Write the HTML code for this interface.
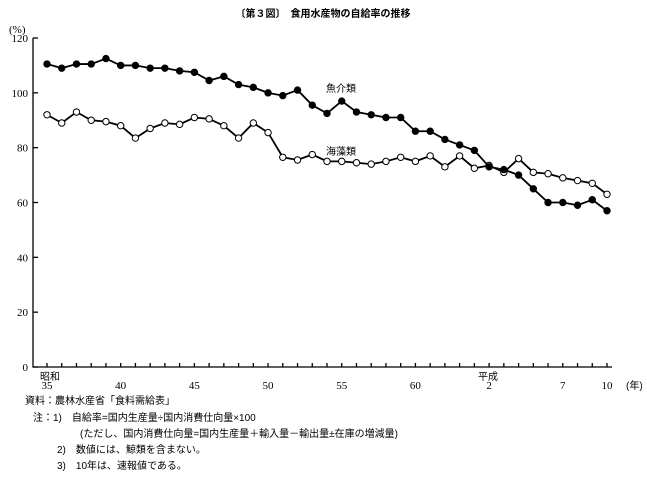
<!DOCTYPE html>
<html><head><meta charset="utf-8"><style>
body{margin:0;background:#fff;}
svg{display:block;font-family:"Liberation Serif","Noto Serif CJK SC","Noto Sans CJK JP",serif;}
.j{font-family:"Liberation Sans","Noto Sans CJK JP",sans-serif;font-size:10px;}
</style></head><body>
<svg id="s" width="647" height="480" viewBox="0 0 647 480" xmlns="http://www.w3.org/2000/svg">
<text class="j" x="323" y="17" text-anchor="middle" font-weight="bold">〔第３図〕　食用水産物の自給率の推移</text>
<text x="9" y="33" font-size="11">(%)</text>
<g id="ax" stroke="#000" stroke-width="1.3" fill="none"></g>
<g id="lb" font-size="11"></g>
<text class="j" x="326" y="92">魚介類</text>
<text class="j" x="326" y="155">海藻類</text>
<text class="j" x="40" y="380">昭和</text>
<text class="j" x="478" y="380">平成</text>
<text class="j" x="626" y="389" font-size="11">(年)</text>
<g class="j">
<text x="25" y="404">資料：農林水産省「食料需給表」</text>
<text x="33" y="421">注：1)　自給率=国内生産量÷国内消費仕向量×100</text>
<text x="80" y="437">(ただし、国内消費仕向量=国内生産量＋輸入量－輸出量±在庫の増減量)</text>
<text x="57" y="453">2)　数値には、鯨類を含まない。</text>
<text x="57" y="469">3)　10年は、速報値である。</text>
</g>
<g id="d"></g>
</svg>
<script>
const ns="http://www.w3.org/2000/svg";
function el(p,t,a,txt){const e=document.createElementNS(ns,t);for(const k in a)e.setAttribute(k,a[k]);if(txt!==undefined)e.textContent=txt;p.appendChild(e);return e;}
const X=i=>47+i*560/38, Y=v=>367-v*329/120;
const ax=document.getElementById('ax'),lb=document.getElementById('lb'),d=document.getElementById('d');
el(ax,'path',{d:`M33 ${Y(120)} V367 H612`});
for(let v=0;v<=120;v+=20){el(ax,'line',{x1:33,x2:38,y1:Y(v),y2:Y(v)});el(lb,'text',{x:28,y:Y(v)+4,'text-anchor':'end'},String(v));}
for(let i=0;i<39;i++)el(ax,'line',{x1:X(i),x2:X(i),y1:367,y2:363});
const xl=[[0,'35'],[5,'40'],[10,'45'],[15,'50'],[20,'55'],[25,'60'],[30,'2'],[35,'7'],[38,'10']];
xl.forEach(([i,t])=>el(lb,'text',{x:X(i),y:389,'text-anchor':'middle'},t));
const fish=[110.5,109,110.5,110.5,112.5,110,110,109,109,108,107.5,104.5,106,103,102,100,99,101,95.5,92.5,97,93,92,91,91,86,86,83,81,79,73,72,70,65,60,60,59,61,57];
const sea=[92,89,93,90,89.5,88,83.5,87,89,88.5,91,90.5,88,83.5,89,85.5,76.5,75.5,77.5,75,75,74.5,74,75,76.5,75,77,73,77,72.5,73.5,71,76,71,70.5,69,68,67,63];
function series(a,fill){el(d,'polyline',{points:a.map((v,i)=>X(i)+','+Y(v)).join(' '),fill:'none',stroke:'#000','stroke-width':1.8});
a.forEach((v,i)=>el(d,'circle',{cx:X(i),cy:Y(v),r:3.2,fill:fill,stroke:'#000','stroke-width':1}));}
series(sea,'#fff');series(fish,'#000');
</script>
</body></html>
